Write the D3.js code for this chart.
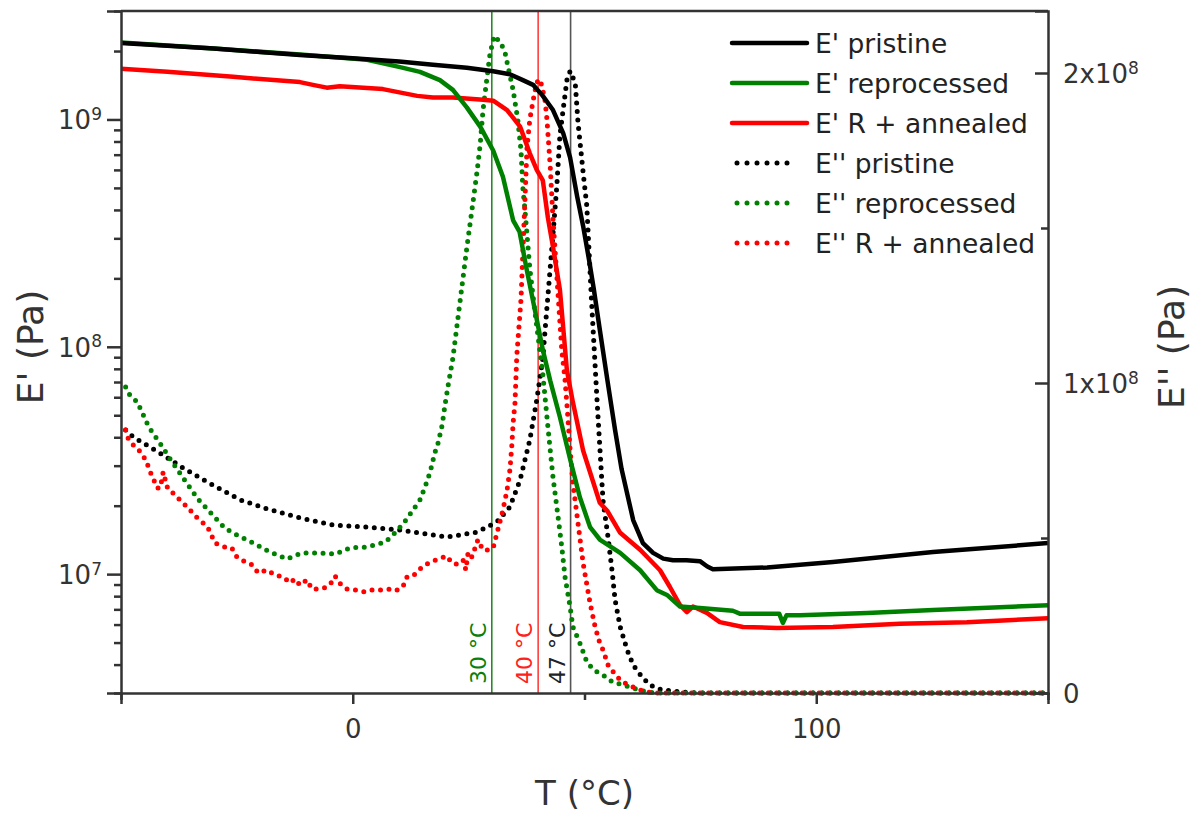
<!DOCTYPE html>
<html><head><meta charset="utf-8">
<script src="https://cdn.jsdelivr.net/npm/d3@7"></script>
<style>body{margin:0;background:#fff} svg{display:block}</style>
</head><body><svg id="c" width="1199" height="814"></svg>
<script>
// ---------------- DATA ----------------
// Storage modulus E' (Pa), left log axis: [T (°C), E']
const ePristine = [[-50,2.17e9],[-40,2.11e9],[-30,2.05e9],[-20,1.98e9],[-11.4,1.92e9],[0,1.86e9],[10,1.80e9],[17.3,1.74e9],[24.6,1.69e9],[30.3,1.63e9],[33.9,1.58e9],[36.7,1.49e9],[38.9,1.42e9],[41,1.27e9],[43.2,1.10e9],[45.4,8.7e8],[46.9,6.8e8],[48.4,4.6e8],[49.7,3.4e8],[51,2.4e8],[52,1.8e8],[53.3,1.19e8],[55,7e7],[56.6,4.3e7],[58,2.9e7],[59.8,2.0e7],[60.5,1.73e7],[62.6,1.37e7],[64.8,1.24e7],[67,1.17e7],[69.1,1.15e7],[72,1.15e7],[74.9,1.14e7],[76.5,1.08e7],[77.7,1.05e7],[89.4,1.07e7],[103.6,1.13e7],[125.2,1.25e7],[150,1.37e7]];
const eReprocessed = [[-50,2.18e9],[-30,2.05e9],[-11.4,1.93e9],[3.1,1.83e9],[10.2,1.70e9],[14.5,1.62e9],[18.8,1.49e9],[21.6,1.35e9],[24.6,1.13e9],[27.5,9.3e8],[30.3,7.3e8],[32.4,5.6e8],[34.6,3.6e8],[36,3.2e8],[37.5,2.2e8],[39.3,1.45e8],[41,9.7e7],[42.6,7.1e7],[44.7,4.9e7],[46.9,3.2e7],[49,2.18e7],[51.2,1.61e7],[53.3,1.42e7],[57.7,1.24e7],[62,1.04e7],[65.6,8.5e6],[67.8,8.1e6],[70.6,7.2e6],[74.9,7.1e6],[82,6.9e6],[83.5,6.7e6],[92,6.7e6],[92.8,6.1e6],[93.6,6.6e6],[96.5,6.6e6],[111,6.75e6],[125.2,6.95e6],[150,7.3e6]];
const eAnnealed = [[-50,1.67e9],[-40,1.62e9],[-25.8,1.54e9],[-11.4,1.46e9],[-8.6,1.42e9],[-5.6,1.38e9],[-2.8,1.40e9],[6.5,1.36e9],[13.9,1.27e9],[17.3,1.25e9],[21.6,1.25e9],[28.1,1.22e9],[30.3,1.21e9],[33.3,1.10e9],[36.1,9.3e8],[38.2,7.1e8],[39.7,6.0e8],[41,5.4e8],[42.1,3.7e8],[43.2,2.75e8],[44.7,1.78e8],[46.2,7.9e7],[47.5,5.7e7],[49.7,3.5e7],[53.3,2.06e7],[54.9,1.9e7],[57.7,1.52e7],[62,1.28e7],[66.3,1.04e7],[68.4,8.8e6],[70.6,7.3e6],[72.1,6.8e6],[73.4,7.2e6],[76.4,6.75e6],[79.2,6.15e6],[84.2,5.85e6],[91.5,5.8e6],[103.6,5.85e6],[118,6.05e6],[132.5,6.15e6],[150,6.4e6]];
// Loss modulus E'' (Pa), right linear axis: [T (°C), E'']
const lPristine = [[-49,84.8e6],[-47.4,82.6e6],[-41.6,77.4e6],[-36.6,72.6e6],[-31.4,68.1e6],[-24.3,62.3e6],[-18.5,59.4e6],[-11.4,56.5e6],[-4.3,54.2e6],[3.1,53.5e6],[10.2,52.6e6],[20.3,50.3e6],[26.8,51.9e6],[31.1,55.2e6],[33.9,60e6],[36.1,68.7e6],[38.2,81.6e6],[39.7,94.5e6],[41,108e6],[43.2,148e6],[44,163e6],[44.7,180e6],[46.2,197.7e6],[46.9,200.6e6],[48,196.8e6],[48.6,184e6],[49.7,168e6],[50.5,157e6],[51.5,127e6],[52.7,94.5e6],[54,62e6],[55.1,50e6],[56,38.7e6],[56.6,30e6],[57.7,21.3e6],[59.2,13.9e6],[60.5,9e6],[62.4,5.2e6],[64.1,2.6e6],[66.7,1e6],[71.3,0.3e6],[75,0],[150,0]];
const lReprocessed = [[-49,98.7e6],[-48,95.8e6],[-46.5,93.9e6],[-44,85.8e6],[-41.6,80.6e6],[-39.4,75.5e6],[-35.8,67.7e6],[-33.4,62.6e6],[-30.8,58.4e6],[-27.6,53.2e6],[-25,51e6],[-21.1,48.1e6],[-17.9,45.5e6],[-14.2,43.2e6],[-11,45.2e6],[-7.7,45.2e6],[-3.8,44.8e6],[-0.6,46.8e6],[3.1,47.1e6],[7,48.7e6],[8.7,51e6],[11,54.8e6],[13,59e6],[14.5,62.3e6],[15.6,66.5e6],[16.7,71.3e6],[17.7,77.4e6],[18.4,80.6e6],[19.3,86.5e6],[19.9,92.9e6],[20.6,99.4e6],[21.6,108e6],[24.6,143.5e6],[26,159e6],[26.8,168e6],[27.5,177e6],[28.1,188e6],[29,199e6],[29.6,206e6],[30.5,212e6],[31.8,210e6],[32.8,207e6],[33.5,202e6],[34.6,194.5e6],[35.6,185e6],[36.3,175e6],[36.7,163e6],[37.2,155e6],[38.2,137e6],[39.3,123e6],[41,103e6],[41.9,89e6],[42.6,78.4e6],[43.2,69.7e6],[44.3,56.8e6],[45.1,47.1e6],[45.8,37.4e6],[46.9,27.7e6],[47.5,21.3e6],[49,16.1e6],[50.5,10e6],[52,7.4e6],[54,5.8e6],[56.1,3.5e6],[58.3,2.6e6],[60.5,1.6e6],[63.5,0.3e6],[66,0],[150,0]];
const lAnnealed = [[-49,84.8e6],[-48.4,81.9e6],[-47,79.4e6],[-45.5,77.4e6],[-44.4,74.2e6],[-43.7,71.3e6],[-43,69e6],[-42.2,66.1e6],[-41.6,66.1e6],[-41.2,68.7e6],[-40.9,71.3e6],[-39.9,65.8e6],[-38.8,64.5e6],[-37.3,62.3e6],[-35.5,59.7e6],[-34,57.1e6],[-32.5,55.2e6],[-31.2,53.2e6],[-29.7,48.4e6],[-27.6,47.1e6],[-26.1,46.8e6],[-25,43.9e6],[-23.2,42.3e6],[-21.7,41.3e6],[-20.4,38.7e6],[-18.5,39.7e6],[-16.8,38.1e6],[-15,37.4e6],[-13.5,35.5e6],[-12.5,36.8e6],[-11.4,34.8e6],[-9.9,36.5e6],[-8.8,33.5e6],[-7.7,33.6e6],[-6.2,33.9e6],[-4.9,35e6],[-3.8,37.7e6],[-2.9,35.5e6],[-1.2,33.5e6],[0.7,33.2e6],[2.6,32.6e6],[4.1,33.2e6],[5.9,33.2e6],[8,33.5e6],[9.3,33e6],[10.8,34.2e6],[11.7,37.4e6],[13,37.7e6],[14.5,40e6],[16.3,41.9e6],[18.4,43.2e6],[20.3,44.2e6],[21.4,41.9e6],[22.5,41.6e6],[23.8,42.9e6],[24.4,39.7e6],[24.9,45.5e6],[25.7,43.9e6],[26.4,46.8e6],[27,49.4e6],[28.1,46.1e6],[29.2,46.1e6],[30.3,46.8e6],[31.3,52.6e6],[32.4,59e6],[33.3,65.5e6],[33.9,71.9e6],[34.3,79.4e6],[34.6,87.1e6],[35,93.5e6],[35.4,109e6],[36.3,127e6],[37.6,176e6],[38.2,185e6],[38.9,191e6],[39.7,197e6],[40.4,198e6],[41,194.5e6],[41.5,191e6],[41.9,185e6],[42.6,170e6],[43.2,153e6],[45.1,110.6e6],[45.8,101e6],[46.3,91.3e6],[46.9,78.4e6],[47.5,67.7e6],[48.6,54.8e6],[49.7,41.9e6],[51.2,29e6],[52.3,21.3e6],[53.3,16.1e6],[54,13.9e6],[55.1,9e6],[57,5.2e6],[58.7,3.2e6],[60.5,1.9e6],[62.6,0.6e6],[65,0],[150,0]];

const seriesNames = ["E' pristine","E' reprocessed","E' R + annealed","E'' pristine","E'' reprocessed","E'' R + annealed"];
const seriesColors = ["#000000","#008000","#ff0000","#000000","#008000","#ff0000"];
const xTickValues = [-50,0,50,100,150];
const xTickLabels = {0:"0",100:"100"};
const rightTickValues = [0,0.5e8,1e8,1.5e8,2e8];
const rightTickLabels = {0:["0",""],100000000:["1x10","8"],200000000:["2x10","8"]};
const markers = [{t:30,label:"30 °C",color:"#0a800a",line:"#2a8a2a"},{t:40,label:"40 °C",color:"#ff2020",line:"#ff4040"},{t:47,label:"47 °C",color:"#222",line:"#555"}];

// ---------------- CHART ----------------
const svg = d3.select("#c");
const m = {l:121,r:1048,t:11,b:693};
const x = d3.scaleLinear().domain([-50,150]).range([m.l,m.r]);
const yL = d3.scaleLog().domain([3e6,3e9]).range([m.b,m.t]);
const yR = d3.scaleLinear().domain([0,2.2e8]).range([m.b,m.t]);
const FONT = "'DejaVu Sans', sans-serif";
const AX = "#333";

// marker vertical lines
markers.forEach(mk=>{
  svg.append("line").attr("x1",x(mk.t)).attr("x2",x(mk.t)).attr("y1",m.t).attr("y2",m.b)
    .attr("stroke",mk.line).attr("stroke-width",1.6);
  svg.append("text").attr("transform",`translate(${x(mk.t)-6},${m.b-9}) rotate(-90)`)
    .attr("font-family",FONT).attr("font-size",22).attr("fill",mk.color).text(mk.label);
});

svg.append("clipPath").attr("id","clip").append("rect")
  .attr("x",m.l).attr("y",m.t-3).attr("width",m.r-m.l).attr("height",m.b-m.t+6);
const g = svg.append("g").attr("clip-path","url(#clip)");

const lineL = d3.line().x(d=>x(d[0])).y(d=>yL(d[1]));
const lineR = d3.line().x(d=>x(d[0])).y(d=>yR(d[1]));

// dotted E''
[[lPristine,3],[lReprocessed,4],[lAnnealed,5]].forEach(([data,i])=>{
  g.append("path").datum(data).attr("d",lineR).attr("fill","none")
   .attr("stroke",seriesColors[i]).attr("stroke-width",5).attr("stroke-linecap","round")
   .attr("stroke-dasharray","0 8.5");
});
// solid E'
[[eAnnealed,2],[eReprocessed,1],[ePristine,0]].forEach(([data,i])=>{
  g.append("path").datum(data).attr("d",lineL).attr("fill","none")
   .attr("stroke",seriesColors[i]).attr("stroke-width",4.5).attr("stroke-linejoin","round");
});

// axes
function styleAxis(sel){
  sel.select(".domain").attr("stroke",AX).attr("stroke-width",2.5);
  sel.selectAll(".tick line").attr("stroke",AX).attr("stroke-width",2.5);
  sel.selectAll("text").attr("font-family",FONT).attr("fill","#333");
}
// bottom
const xAxis = d3.axisBottom(x).tickValues(xTickValues).tickSizeOuter(0).tickSize(11).tickPadding(16)
  .tickFormat(d=>xTickLabels[d]||"");
const gx = svg.append("g").attr("transform",`translate(0,${m.b})`).call(xAxis);
styleAxis(gx);
gx.selectAll("text").attr("font-size",26);
gx.selectAll(".tick").filter(d=>!(d in xTickLabels)).select("line").attr("y2",7);

// top border
svg.append("line").attr("x1",m.l).attr("x2",m.r).attr("y1",m.t).attr("y2",m.t).attr("stroke",AX).attr("stroke-width",2.5);

// left log axis
const leftTicks = [];
for(let e=6;e<=9;e++) for(let k=1;k<=9;k++){const v=k*Math.pow(10,e); if(v>=3e6-1 && v<=3e9+1) leftTicks.push(v);}
const yAxisL = d3.axisLeft(yL).tickValues(leftTicks).tickSizeOuter(0).tickSize(14).tickPadding(5).tickFormat(()=>"");
const gl = svg.append("g").attr("transform",`translate(${m.l},0)`).call(yAxisL);
styleAxis(gl);
gl.selectAll(".tick").each(function(d){
  const isMajor = Math.abs(Math.log10(d)-Math.round(Math.log10(d)))<1e-9;
  const t = d3.select(this);
  if(!isMajor){ t.select("line").attr("x2",-7); return; }
  const txt = t.select("text").attr("font-size",26).attr("dy","0.36em");
  txt.append("tspan").text("10");
  txt.append("tspan").attr("dy","-0.55em").attr("font-size",17).text(Math.round(Math.log10(d)));
});

// right linear axis
const yAxisR = d3.axisRight(yR).tickValues(rightTickValues).tickSizeOuter(0).tickSize(-13).tickPadding(15).tickFormat(()=>"");
const gr = svg.append("g").attr("transform",`translate(${m.r},0)`).call(yAxisR);
styleAxis(gr);
gr.selectAll(".tick").each(function(d){
  const t = d3.select(this);
  const lab = rightTickLabels[d];
  if(!lab){ t.select("line").attr("x2",-7); return; }
  const txt = t.select("text").attr("font-size",26).attr("dy","0.36em");
  txt.append("tspan").text(lab[0]);
  if(lab[1]) txt.append("tspan").attr("dy","-0.55em").attr("font-size",17).text(lab[1]);
});

// axis titles
svg.append("text").attr("x",x(50)).attr("y",805).attr("text-anchor","middle")
  .attr("font-family",FONT).attr("font-size",34).attr("fill","#333").text("T (°C)");
svg.append("text").attr("transform",`translate(43,347) rotate(-90)`).attr("text-anchor","middle")
  .attr("font-family",FONT).attr("font-size",36).attr("fill","#333").text("E' (Pa)");
svg.append("text").attr("transform",`translate(1184,347) rotate(-90)`).attr("text-anchor","middle")
  .attr("font-family",FONT).attr("font-size",36).attr("fill","#333").text("E'' (Pa)");

// legend
const lg = svg.append("g");
seriesNames.forEach((name,i)=>{
  const yy = 43 + i*40;
  if(i<3){
    lg.append("line").attr("x1",732).attr("x2",807).attr("y1",yy).attr("y2",yy)
      .attr("stroke",seriesColors[i]).attr("stroke-width",4.5).attr("stroke-linecap","round");
  } else {
    lg.append("line").attr("x1",737).attr("x2",797).attr("y1",yy).attr("y2",yy)
      .attr("stroke",seriesColors[i]).attr("stroke-width",5).attr("stroke-linecap","round")
      .attr("stroke-dasharray","0 10");
  }
  lg.append("text").attr("x",815).attr("y",yy+10).attr("font-family",FONT).attr("font-size",26.5)
    .attr("fill","#222").text(name);
});
</script></body></html>
